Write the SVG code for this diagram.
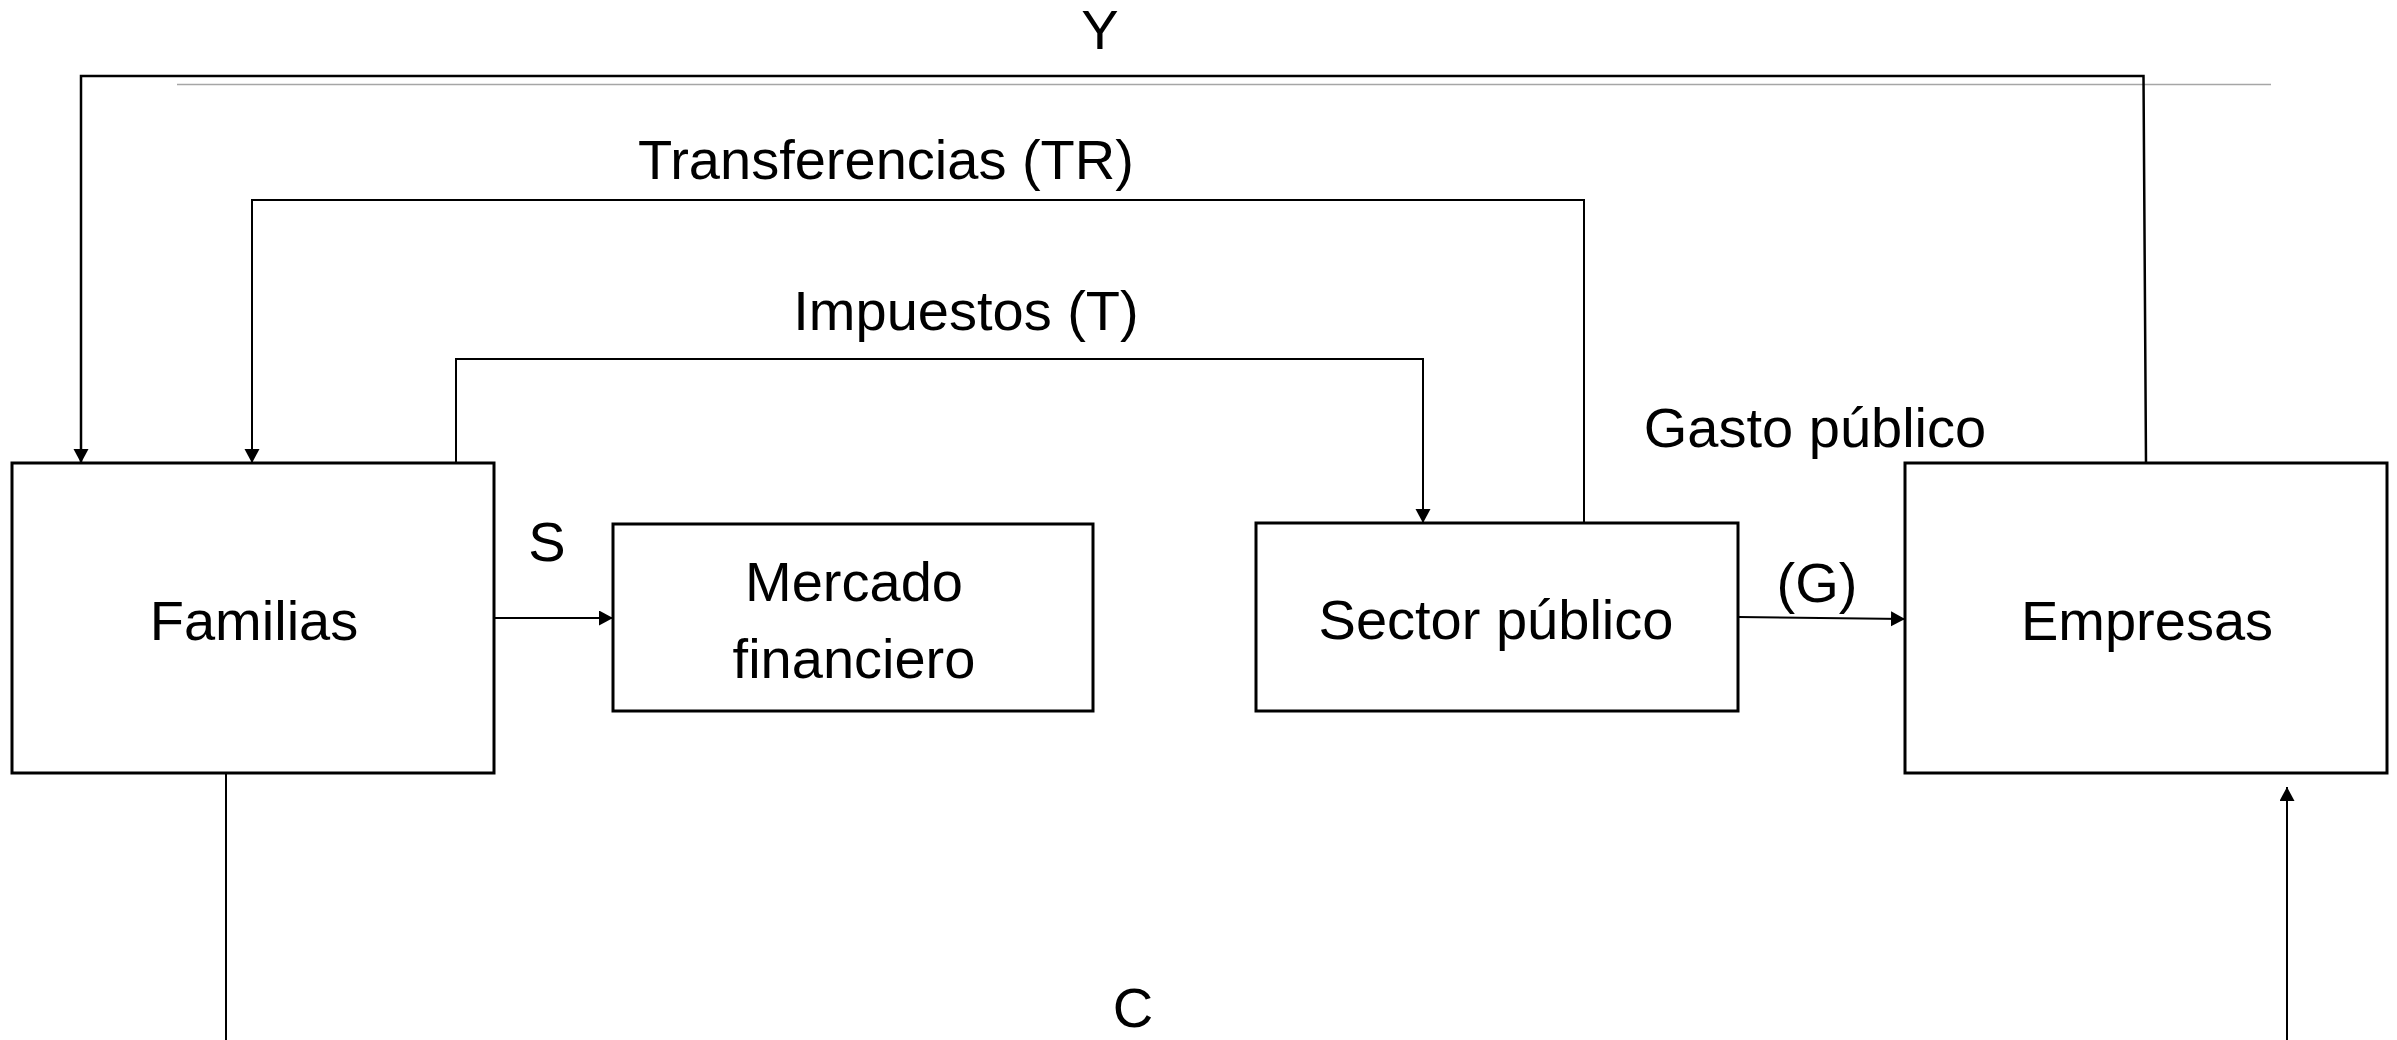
<svg xmlns="http://www.w3.org/2000/svg" width="2397" height="1040" viewBox="0 0 2397 1040">
<style>
.box{fill:#fff;stroke:#000;stroke-width:3}
.con{fill:none;stroke:#000;stroke-width:2}
.lbl{font-family:"Liberation Sans",Arial,sans-serif;font-size:56px;fill:#000;text-anchor:middle}
</style>
<defs>
<marker id="arr" markerUnits="userSpaceOnUse" markerWidth="16" markerHeight="16" refX="14" refY="7.5" orient="auto" viewBox="0 0 16 16">
<path d="M0,0 L14,7.5 L0,15 z" fill="#000"/>
</marker>
</defs>
<rect width="2397" height="1040" fill="#fff"/>
<line x1="177" y1="84.5" x2="2271" y2="84.5" stroke="#a6a6a6" stroke-width="1.5"/>
<g id="connectors">
<path class="con" style="stroke-width:2.5" d="M2146,463 L2143.5,76 L81,76 L81,463" marker-end="url(#arr)"/>
<path class="con" d="M1584,523 L1584,200 L252,200 L252,463" marker-end="url(#arr)"/>
<path class="con" d="M456,463 L456,359 L1423,359 L1423,523" marker-end="url(#arr)"/>
<path class="con" d="M494,618 L613,618" marker-end="url(#arr)"/>
<path class="con" d="M1738,617 L1905,619" marker-end="url(#arr)"/>
<path class="con" d="M226,773 L226,1040"/>
<path class="con" d="M2287,1040 L2287,787" marker-end="url(#arr)"/>
</g>
<g id="labels">
<text class="lbl" x="1100" y="49">Y</text>
<text class="lbl" x="886" y="179">Transferencias (TR)</text>
<text class="lbl" x="966" y="330">Impuestos (T)</text>
<text class="lbl" x="1815" y="447">Gasto público</text>
<text class="lbl" x="547" y="561">S</text>
<text class="lbl" x="1817" y="602">(G)</text>
<text class="lbl" x="1133" y="1027">C</text>
</g>
<g id="familias">
<rect class="box" x="12" y="463" width="482" height="310"/>
<text class="lbl" x="254" y="640">Familias</text>
</g>
<g id="mercado">
<rect class="box" x="613" y="524" width="480" height="187"/>
<text class="lbl" x="854" y="601">Mercado</text>
<text class="lbl" x="854" y="678">financiero</text>
</g>
<g id="sector">
<rect class="box" x="1256" y="523" width="482" height="188"/>
<text class="lbl" x="1496" y="639">Sector público</text>
</g>
<g id="empresas">
<rect class="box" x="1905" y="463" width="482" height="310"/>
<text class="lbl" x="2147" y="640">Empresas</text>
</g>
</svg>
